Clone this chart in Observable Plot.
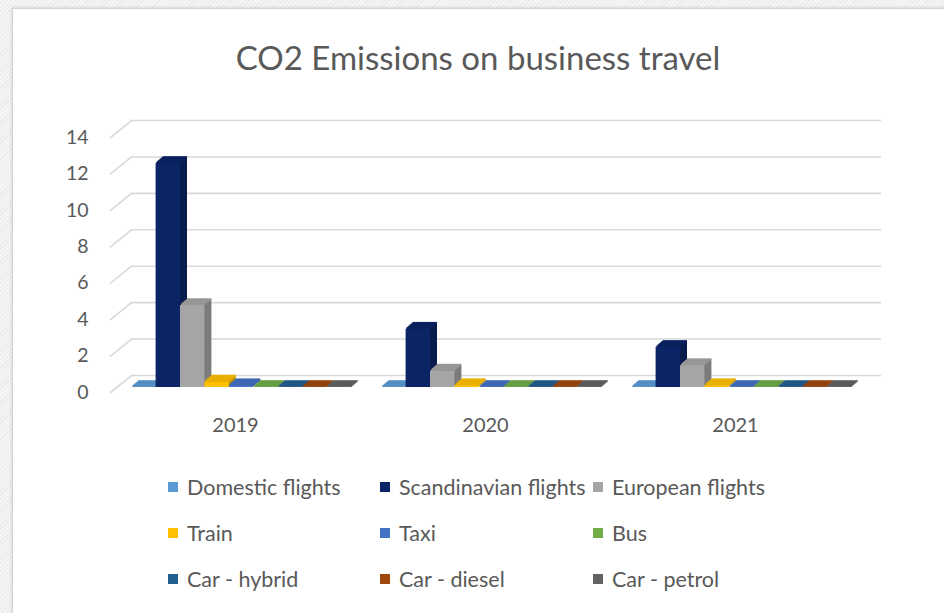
<!DOCTYPE html>
<html><head><meta charset="utf-8">
<script src="https://cdn.jsdelivr.net/npm/d3@7"></script>
<script src="https://cdn.jsdelivr.net/npm/@observablehq/plot@0.6"></script>
<style>
html,body{margin:0;padding:0;width:944px;height:613px;overflow:hidden;}
body{background:repeating-linear-gradient(135deg,#f5f5f5 0 2px,#eaeaea 2px 3px);font-family:Lato,sans-serif;position:relative;}
#panel{position:absolute;left:12px;top:8px;width:940px;height:620px;background:#fff;border:1px solid #d4d4d4;box-shadow:0 0 3px rgba(0,0,0,0.18);}
#title{position:absolute;left:0;top:37px;width:956px;text-align:center;font-size:33px;color:#595959;line-height:40px;}
#chart{position:absolute;left:0;top:100px;}
#legend{position:absolute;left:168px;top:464px;display:grid;grid-template-columns:212px 213px 200px;grid-auto-rows:46px;font-size:21.5px;color:#595959;}
.item{display:flex;align-items:center;white-space:nowrap;}
.sw{width:10px;height:10px;margin-right:9px;flex:none;}
</style></head>
<body>
<div id="panel"></div>
<div id="title"></div>
<div id="chart"></div>
<div id="legend"></div>
<script>
const titleText = "CO2 Emissions on business travel";
const years = ["2019", "2020", "2021"];
const series = ["Domestic flights", "Scandinavian flights", "European flights", "Train", "Taxi", "Bus", "Car - hybrid", "Car - diesel", "Car - petrol"];
const colors = ["#5b9bd5", "#0a2466", "#a5a5a5", "#ffc000", "#4472c4", "#70ad47", "#255e91", "#9e480e", "#636363"];
const domestic = [0, 0, 0];
const scandinavian = [12.3, 3.2, 2.2];
const european = [4.5, 0.9, 1.2];
const train = [0.3, 0.1, 0.1];
const taxi = [0.1, 0, 0];
const bus = [0, 0, 0];
const hybrid = [0, 0, 0];
const diesel = [0, 0, 0];
const petrol = [0, 0, 0];
const yTicks = [0, 2, 4, 6, 8, 10, 12, 14];

const valuesBySeries = [domestic, scandinavian, european, train, taxi, bus, hybrid, diesel, petrol];
const table = series.flatMap((s, i) => years.map((y, j) => ({year: y, series: s, value: valuesBySeries[i][j]})));

document.getElementById("title").textContent = titleText;

const W = 944, mL = 110, mR = 84;
const band = (W - mL - mR) / years.length;
const step = 24.4, barW = 24.4, depthX = 7, depthY = 6, layers = 7;
const inset = (band - barW) / 2;

const marks = [
  Plot.ruleY(yTicks, {stroke: "#d9d9d9", strokeWidth: 1.6, dx: 21, dy: -17}),
  Plot.vector(yTicks, {y: d => d, frameAnchor: "left", length: 27, rotate: 51, anchor: "start", shape: "spike", r: 0.01, stroke: "#d9d9d9", strokeWidth: 1.6, fill: "none"}),
  Plot.axisY(yTicks, {tickSize: 0, tickPadding: 22, fontSize: 19.5, label: null}),
  Plot.axisX({tickSize: 0, tickPadding: 25, fontSize: 20, label: null})
];

series.forEach((s, i) => {
  const d = table.filter(r => r.series === s);
  const c = colors[i];
  const side = d3.color(c).darker(0.8).formatHex();
  const top = d3.color(c).darker(0.25).formatHex();
  const dx = (i - 4) * step + 6, dy = -5;
  for (let k = layers; k >= 1; k--) {
    const ox = dx + k * depthX / layers, oy = dy - k * depthY / layers;
    marks.push(Plot.barY(d, {x: "year", y: "value", fill: side, insetLeft: inset, insetRight: inset, dx: ox, dy: oy}));
    marks.push(Plot.tickY(d, {x: "year", y: "value", stroke: top, strokeWidth: 1.6, insetLeft: inset, insetRight: inset, dx: ox, dy: oy - 0.5}));
  }
  marks.push(Plot.barY(d, {x: "year", y: "value", fill: c, insetLeft: inset, insetRight: inset, dx, dy}));
});

const plot = Plot.plot({
  width: W,
  height: 342,
  marginLeft: mL,
  marginRight: mR,
  marginTop: 37,
  marginBottom: 50,
  style: {fontFamily: "Lato, sans-serif", color: "#595959", background: "transparent", overflow: "visible"},
  x: {domain: years, padding: 0, label: null, axis: null},
  y: {domain: [0, 14], label: null, axis: null},
  marks
});
document.getElementById("chart").appendChild(plot);

const legend = document.getElementById("legend");
series.forEach((s, i) => {
  const item = document.createElement("div");
  item.className = "item";
  const sw = document.createElement("span");
  sw.className = "sw";
  sw.style.background = colors[i];
  const t = document.createElement("span");
  t.textContent = s;
  item.appendChild(sw);
  item.appendChild(t);
  legend.appendChild(item);
});
</script>
</body></html>
